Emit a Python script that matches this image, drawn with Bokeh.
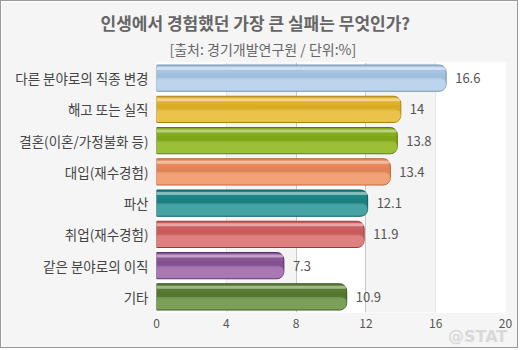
from bokeh.plotting import figure
from bokeh.models import ColumnDataSource, FixedTicker, Title, FactorRange, BoxAnnotation
from bokeh.transform import dodge
from bokeh.core.properties import value
from bokeh.embed import file_html
from bokeh.resources import INLINE

title = "인생에서 경험했던 가장 큰 실패는 무엇인가?"
subtitle = "[출처: 경기개발연구원 / 단위:%]"
watermark = "@STAT"
categories = ["다른 분야로의 직종 변경", "해고 또는 실직", "결혼(이혼/가정불화 등)", "대입(재수경험)",
              "파산", "취업(재수경험)", "같은 분야로의 이직", "기타"]
values = [16.6, 14, 13.8, 13.4, 12.1, 11.9, 7.3, 10.9]
labels = ["16.6", "14", "13.8", "13.4", "12.1", "11.9", "7.3", "10.9"]
x_ticks = [0, 4, 8, 12, 16, 20]
shaded_bands = [(4, 8), (12, 16)]

main_colors = ["#a6c5e4", "#e0b028", "#84ac1c", "#e8885a", "#1e8585", "#cf5f5f", "#8a5696", "#587c30"]
edge_colors = ["#7894b0", "#a88410", "#56780c", "#b86038", "#0f5c5c", "#983838", "#5a2c68", "#3a5620"]
light_colors = ["#cfe1f3", "#f4d468", "#b0d050", "#f8b890", "#68bcbc", "#ec9a9a", "#c096c8", "#98bc78"]

FONT = "Noto Sans CJK KR"

src = ColumnDataSource(dict(cat=categories, val=values, lab=labels,
                            main=main_colors, edge=edge_colors, light=light_colors))

p = figure(width=518, height=348, y_range=FactorRange(*reversed(categories)),
           x_range=(0, 20), output_backend="svg", toolbar_location=None,
           min_border_left=155, min_border_right=14, min_border_top=61, min_border_bottom=37)
p.styles = {"border": "1px solid #9a9a9a"}
p.y_range.range_padding = 0
p.background_fill_color = "white"
p.border_fill_color = "#f5f5f5"
p.outline_line_color = None

for a, b in shaded_bands:
    p.add_layout(BoxAnnotation(left=a, right=b, fill_color="#f4f4f4", fill_alpha=1,
                               line_color=None, level="underlay"))

# bars (layered to imitate the glossy gradient)
p.hbar(y="cat", left=0, right="val", height=0.84, source=src, fill_color="main",
       line_color="edge", line_width=1, border_radius=(0, 7, 7, 0))
p.hbar(y=dodge("cat", -0.2, range=p.y_range), left=0, right="val", height=0.4, source=src,
       fill_color="light", fill_alpha=0.55, line_color=None, border_radius=(0, 6, 6, 0))
p.hbar(y=dodge("cat", 0.31, range=p.y_range), left=0, right="val", height=0.1, source=src,
       fill_color="white", fill_alpha=0.45, line_color=None, border_radius=(0, 4, 4, 0))
p.hbar(y=dodge("cat", 0.05, range=p.y_range), left=0, right="val", height=0.2, source=src,
       fill_color="edge", fill_alpha=0.12, line_color=None)

p.text(x="val", y="cat", text="lab", source=src, x_offset=9, text_baseline="middle",
       text_align="left", text_font=value(FONT), text_font_size="13px", text_color="#555555")

p.xgrid.ticker = FixedTicker(ticks=x_ticks)
p.xgrid.grid_line_color = "#c4c4c4"
p.ygrid.grid_line_color = None

p.xaxis.ticker = FixedTicker(ticks=x_ticks)
for ax in (p.xaxis[0], p.yaxis[0]):
    ax.axis_line_color = None
    ax.major_tick_line_color = None
    ax.minor_tick_line_color = None
    ax.major_tick_out = 0
    ax.major_tick_in = 0
    ax.minor_tick_out = 0
    ax.major_label_text_font = FONT
    ax.major_label_text_color = "#555555"
p.xaxis.major_label_text_font_size = "12px"
p.xaxis.major_label_standoff = 6
p.yaxis.major_label_text_font_size = "13.5px"
p.yaxis.major_label_text_color = "#444444"
p.yaxis.major_label_standoff = 8

# watermark as the x axis label at the end of the axis; trailing no-break spaces
# pull the visible text left so it is not cut at the chart edge
xa = p.xaxis[0]
xa.axis_label = watermark + "\u00a0" * 10
xa.axis_label_text_font = "DejaVu Sans"
xa.axis_label_text_font_size = "16px"
xa.axis_label_text_font_style = "bold"
xa.axis_label_text_color = "#d9d9d9"
xa.axis_label_standoff = -4
xa.axis_label_align = "end"

# titles: main title on top, subtitle nearest the plot (left-aligned with offsets
# so both are centred on the whole chart)
p.title.text = title
p.title.align = "left"
p.title.offset = -56
p.title.text_font = FONT
p.title.text_font_size = "17px"
p.title.text_font_style = "bold"
p.title.text_color = "#666666"
p.title.standoff = -5
p.add_layout(Title(text=subtitle, align="left", offset=13, text_font=FONT,
                   text_font_size="14px", text_font_style="normal", text_color="#666666",
                   standoff=8), "above")

open("out.html", "w").write(file_html(p, INLINE))
